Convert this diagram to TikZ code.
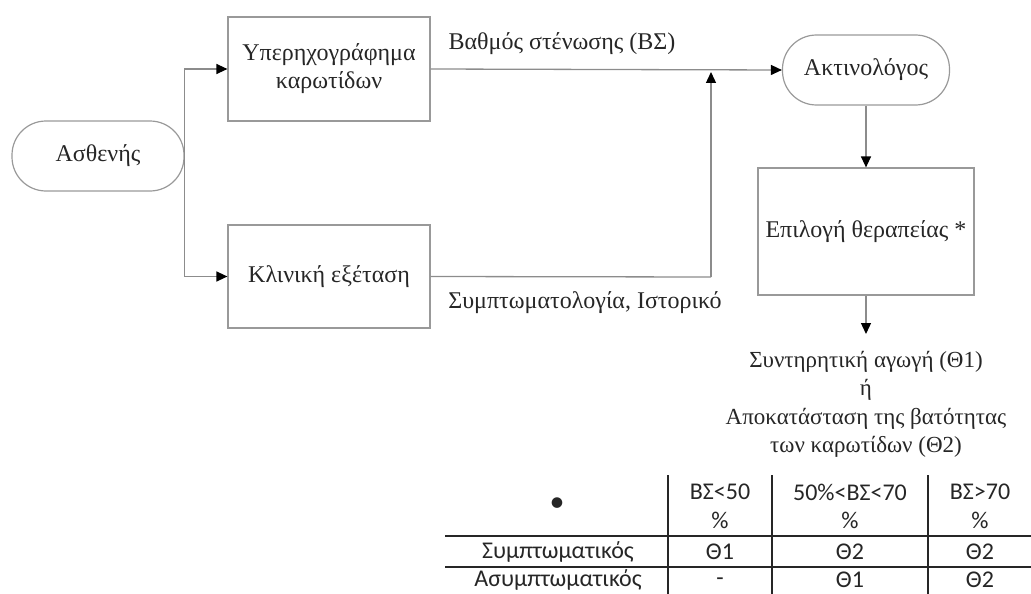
\documentclass[tikz,border=0pt]{standalone}
\usepackage{fontspec}
\setmainfont{Liberation Serif}
\newfontfamily\tabfont{Carlito}
\usetikzlibrary{arrows.meta}
\tikzset{
  flow/.style={draw=black!45, line width=1.3pt, -{Triangle[length=11pt,width=10pt,fill=black,color=black]}},
  plain/.style={draw=black!45, line width=1.3pt},
  pill/.style={draw=black!40, line width=1.2pt, rounded corners=34pt, align=center, text=black!85,
    font=\fontsize{24}{28}\selectfont},
  boxnode/.style={draw=black!40, line width=1.2pt, align=center, text=black!85,
    font=\fontsize{24}{28}\selectfont},
  lbl/.style={text=black!85, font=\fontsize{24}{28}\selectfont, inner sep=0pt},
  cell/.style={text=black!85, font=\tabfont\fontsize{24}{28}\selectfont, inner sep=0pt},
  tline/.style={draw=black!85, line width=1.6pt}
}
\begin{document}
\begin{tikzpicture}[x=1pt,y=-1pt]
\useasboundingbox (0,0) rectangle (1031,594);
\clip (0,0) rectangle (1031,594);
% nodes
\node[pill, minimum width=172pt, minimum height=70pt] (asth) at (98,156) {Ασθενής};
\node[boxnode, minimum width=202pt, minimum height=104pt] (ultra) at (329,69) {Υπερηχογράφημα\\καρωτίδων};
\node[boxnode, minimum width=202pt, minimum height=103pt] (klin) at (329,276.5) {Κλινική εξέταση};
\node[pill, minimum width=167pt, minimum height=70pt] (aktin) at (866,70) {Ακτινολόγος};
\node[boxnode, minimum width=216pt, minimum height=127pt] (epil) at (866,231.5) {Επιλογή θεραπείας *};
\node[lbl, align=center, anchor=north, inner xsep=0pt, inner ysep=17pt,
  font=\fontsize{23}{28.5}\selectfont] (res) at (866,334)
  {Συντηρητική αγωγή (Θ1)\\ή\\Αποκατάσταση της βατότητας\\των καρωτίδων (Θ2)};
\coordinate (join) at (711,277);
\coordinate (meet) at (711,70);
% connectors
\draw[flow] (asth.east) |- (ultra.west);
\draw[flow] (asth.east) |- (klin.west);
\draw[flow] (ultra.east) -- (aktin.west);
\draw[plain] (klin.east) -- (join);
\draw[flow] (join) -- ([yshift=-2pt]meet);
\draw[flow] (aktin.south) -- (epil.north);
\draw[flow] (epil.south) -- (res.north);
% labels
\node[lbl] (lab1) at (562,44) {Βαθμός στένωσης (ΒΣ)};
\node[lbl] (lab2) at (585,303) {Συμπτωματολογία, Ιστορικό};
% table
\draw[tline] (668,475) -- (668,600);
\draw[tline] (772,475) -- (772,600);
\draw[tline] (928,475) -- (928,600);
\draw[tline] (445,536) -- (1040,536);
\draw[tline] (445,567) -- (1040,567);
\node[cell, font=\tabfont\fontsize{30}{30}\selectfont] (c00) at (557,505) {\textbullet};
\node[cell] (c01a) at (720,492) {ΒΣ<50};
\node[cell] (c01b) at (720,520) {\%};
\node[cell] (c02a) at (850,492) {50\%<ΒΣ<70};
\node[cell] (c02b) at (850,520) {\%};
\node[cell] (c03a) at (980,492) {ΒΣ>70};
\node[cell] (c03b) at (980,520) {\%};
\node[cell] (c10) at (558,552) {Συμπτωματικός};
\node[cell] (c11) at (720,552) {Θ1};
\node[cell] (c12) at (850,552) {Θ2};
\node[cell] (c13) at (980,552) {Θ2};
\node[cell] (c20) at (558,580) {Ασυμπτωματικός};
\node[cell] (c21) at (720,582) {-};
\node[cell] (c22) at (850,580) {Θ1};
\node[cell] (c23) at (980,580) {Θ2};
\end{tikzpicture}
\end{document}
